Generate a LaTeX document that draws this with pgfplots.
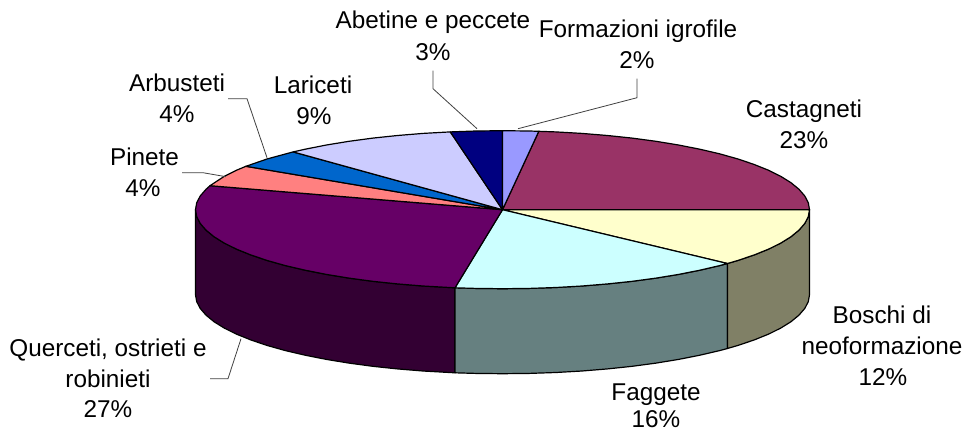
\documentclass[border=0pt]{standalone}
\usepackage{pgfplots}
\pgfplotsset{compat=1.18}
\usepackage{fontspec}
\setmainfont{Liberation Sans}
\definecolor{cForm}{HTML}{9999FF}
\definecolor{cCast}{HTML}{993366}
\definecolor{cBosc}{HTML}{FFFFCC}
\definecolor{cFagg}{HTML}{CCFFFF}
\definecolor{cQuer}{HTML}{660066}
\definecolor{cPine}{HTML}{FF8080}
\definecolor{cArbu}{HTML}{0066CC}
\definecolor{cLari}{HTML}{CCCCFF}
\definecolor{cAbet}{HTML}{000080}
\definecolor{wQuer}{HTML}{330033}
\definecolor{wFagg}{HTML}{668080}
\definecolor{wBosc}{HTML}{808066}
\definecolor{leader}{HTML}{404040}
\newcommand{\lab}[3]{\node[anchor=base,inner sep=0pt,text=black] at (axis cs:#1,#2) {\fontsize{24.3}{28}\selectfont #3};}
\begin{document}
\begin{tikzpicture}
\useasboundingbox (0,0) rectangle (965pt,432pt);
\begin{axis}[at={(0pt,0pt)},anchor=south west,width=965pt,height=432pt,scale only axis,hide axis,
  xmin=0,xmax=965,ymin=-0.7,ymax=431.3,y dir=reverse,clip=false,
  slice/.style={draw=black,line width=1.2pt,line join=round},
  lead/.style={draw=leader,line width=0.8pt,line join=miter}]
% --- side walls ---
\addplot[slice,fill=wQuer] coordinates {(195.5,209)(196.7,215.9)(200.2,222.7)(206.0,229.4)(214.0,236.0)(224.3,242.4)(236.6,248.5)(251.0,254.3)(267.3,259.8)(285.4,264.9)(305.2,269.5)(326.4,273.7)(349.0,277.4)(372.8,280.6)(397.5,283.2)(423.0,285.3)(455.0,287.1)
 (455.0,372.1)(423.0,370.3)(397.5,368.2)(372.8,365.6)(349.0,362.4)(326.4,358.7)(305.2,354.5)(285.4,349.9)(267.3,344.8)(251.0,339.3)(236.6,333.5)(224.3,327.4)(214.0,321.0)(206.0,314.4)(200.2,307.7)(196.7,300.9)(195.5,294)} --cycle;
\addplot[slice,fill=wFagg] coordinates {(455.0,287.1)(475.7,287.7)(502.5,288)(529.3,287.7)(555.8,286.8)(582.0,285.3)(607.5,283.2)(632.2,280.6)(656.0,277.4)(678.6,273.7)(699.8,269.5)(719.6,264.9)(727.4,262.8)
 (727.4,347.8)(719.6,349.9)(699.8,354.5)(678.6,358.7)(656.0,362.4)(632.2,365.6)(607.5,368.2)(582.0,370.3)(555.8,371.8)(529.3,372.7)(502.5,373)(475.7,372.7)(455.0,372.1)} --cycle;
\addplot[slice,fill=wBosc] coordinates {(727.4,262.8)(737.7,259.8)(754.0,254.3)(768.4,248.5)(780.7,242.4)(791.0,236.0)(799.0,229.4)(804.8,222.7)(808.3,215.9)(809.5,209)
 (809.5,294)(808.3,300.9)(804.8,307.7)(799.0,314.4)(791.0,321.0)(780.7,327.4)(768.4,333.5)(754.0,339.3)(737.7,344.8)(727.4,347.8)} --cycle;
% --- top slices ---
\addplot[slice,fill=cCast] coordinates {(502.5,209)(538.8,130.6)(555.8,131.2)(582.0,132.7)(607.5,134.8)(632.2,137.4)(656.0,140.6)(678.6,144.3)(699.8,148.5)(719.6,153.1)(737.7,158.2)(754.0,163.7)(768.4,169.5)(780.7,175.6)(791.0,182.0)(799.0,188.6)(804.8,195.3)(808.3,202.1)(809.5,209)} --cycle;
\addplot[slice,fill=cBosc] coordinates {(502.5,209)(809.5,209)(808.3,215.9)(804.8,222.7)(799.0,229.4)(791.0,236.0)(780.7,242.4)(768.4,248.5)(754.0,254.3)(737.7,259.8)(727.4,262.8)} --cycle;
\addplot[slice,fill=cFagg] coordinates {(502.5,209)(727.4,262.8)(719.6,264.9)(699.8,269.5)(678.6,273.7)(656.0,277.4)(632.2,280.6)(607.5,283.2)(582.0,285.3)(555.8,286.8)(529.3,287.7)(502.5,288)(475.7,287.7)(455.0,287.1)} --cycle;
\addplot[slice,fill=cQuer] coordinates {(502.5,209)(455.0,287.1)(423.0,285.3)(397.5,283.2)(372.8,280.6)(349.0,277.4)(326.4,273.7)(305.2,269.5)(285.4,264.9)(267.3,259.8)(251.0,254.3)(236.6,248.5)(224.3,242.4)(214.0,236.0)(206.0,229.4)(200.2,222.7)(196.7,215.9)(195.5,209)(196.7,202.1)(200.2,195.3)(206.0,188.6)(210.0,185.0)} --cycle;
\addplot[slice,fill=cPine] coordinates {(502.5,209)(210.0,185.0)(224.3,175.6)(236.6,169.5)(245.9,165.6)} --cycle;
\addplot[slice,fill=cArbu] coordinates {(502.5,209)(245.9,165.6)(267.3,158.2)(293.1,151.2)} --cycle;
\addplot[slice,fill=cLari] coordinates {(502.5,209)(293.1,151.2)(305.2,148.5)(326.4,144.3)(349.0,140.6)(372.8,137.4)(397.5,134.8)(423.0,132.7)(450.3,131.2)} --cycle;
\addplot[slice,fill=cAbet] coordinates {(502.5,209)(450.3,131.2)(475.7,130.3)(502.5,130)} --cycle;
\addplot[slice,fill=cForm] coordinates {(502.5,209)(502.5,130)(529.3,130.3)(538.8,130.6)} --cycle;
% --- leaders ---
\addplot[lead] coordinates {(433,70)(433,88)(477,128)};
\addplot[lead] coordinates {(637,78)(637,97)(518,128)};
\addplot[lead] coordinates {(228,98)(247,98)(267,157)};
\addplot[lead] coordinates {(182,172)(203,172)(226,176)};
\addplot[lead] coordinates {(210,378)(228,378)(241,338)};
% --- labels ---
\lab{433}{27.5}{Abetine e peccete}
\lab{433}{59.5}{3\%}
\lab{638}{36.5}{Formazioni igrofile}
\lab{637}{67.5}{2\%}
\lab{313}{92.5}{Lariceti}
\lab{314}{123.5}{9\%}
\lab{177}{90.5}{Arbusteti}
\lab{177}{121.5}{4\%}
\lab{144.5}{164.5}{Pinete}
\lab{143}{195.5}{4\%}
\lab{804}{116.5}{Castagneti}
\lab{804}{147.5}{23\%}
\lab{108}{355.5}{Querceti, ostrieti e}
\lab{108}{386.5}{robinieti}
\lab{108}{416.5}{27\%}
\lab{656}{399.5}{Faggete}
\lab{656}{427}{16\%}
\lab{882}{322.5}{Boschi di}
\lab{882}{353.5}{neoformazione}
\lab{883}{384.5}{12\%}
\end{axis}
\end{tikzpicture}
\end{document}
